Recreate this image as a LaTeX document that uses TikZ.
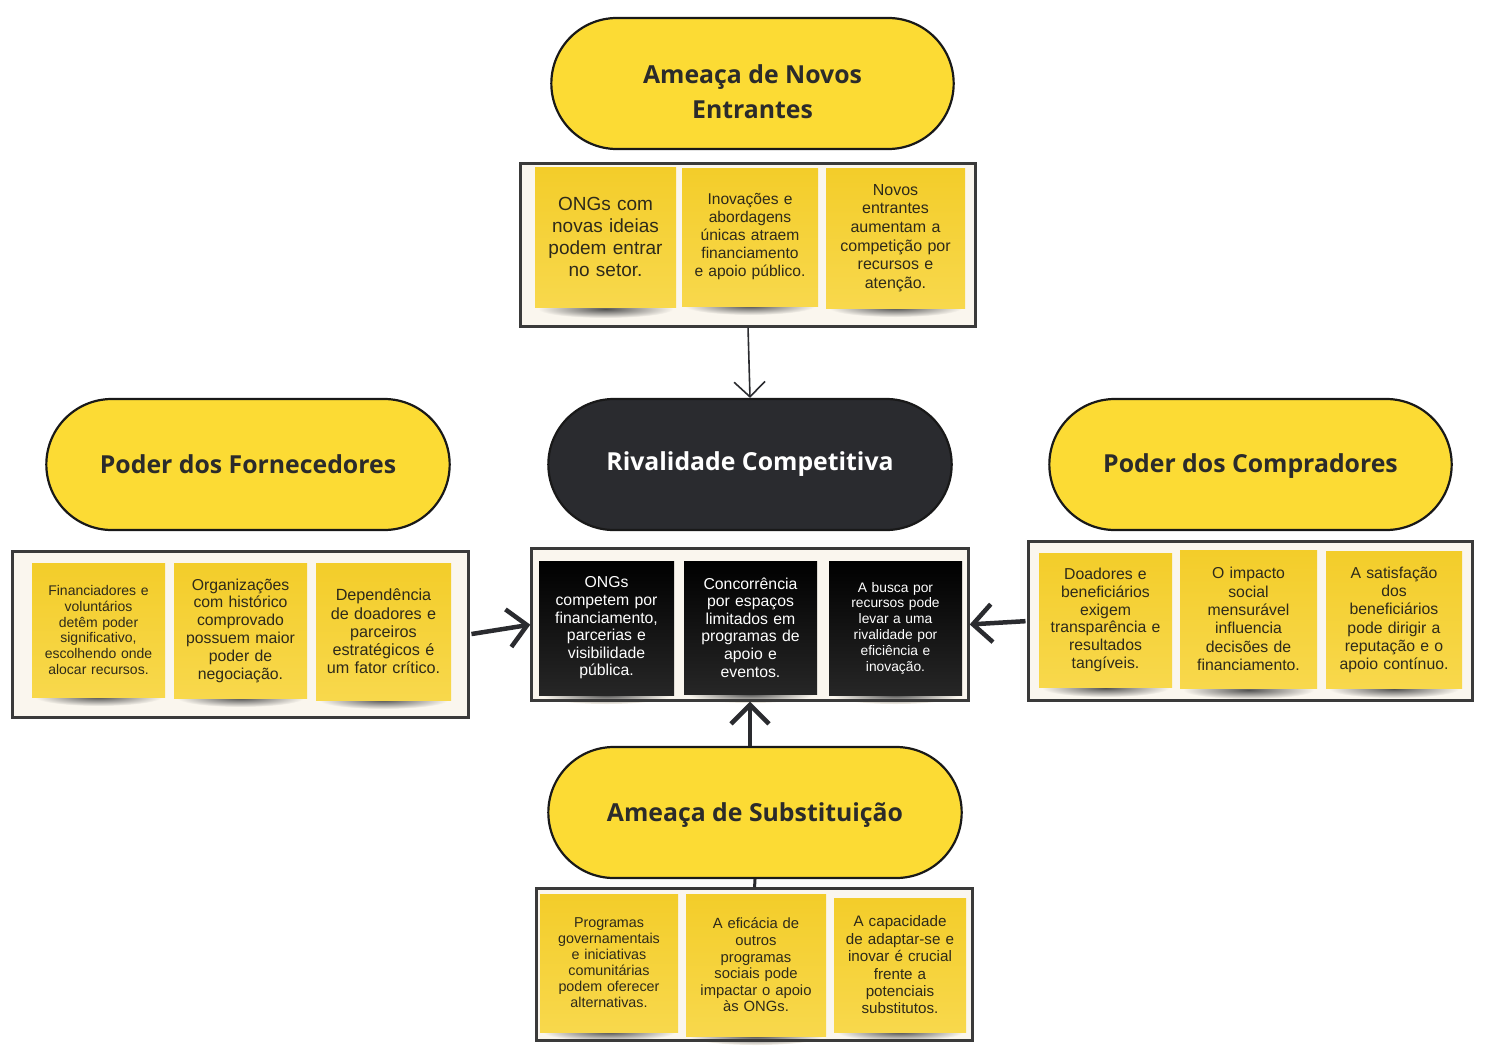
\documentclass[tikz,border=0pt]{standalone}
\usepackage{fontspec}
\setmainfont{Liberation Sans}
\newfontfamily\pillfont{Open Sans}
\usetikzlibrary{arrows.meta,shapes.misc}
\newcommand\fsz[2]{\fontsize{#1}{#2}\selectfont}
\definecolor{pillyellow}{HTML}{FCDB34}
\definecolor{pillblack}{HTML}{2A2B2F}
\definecolor{pilltext}{HTML}{2B2B2B}
\definecolor{stktop}{HTML}{F3CD2A}
\definecolor{stkbot}{HTML}{F8D84C}
\definecolor{stktext}{HTML}{2E2A1A}
\definecolor{framefill}{HTML}{FAF6EE}
\definecolor{frameline}{HTML}{3A3A3A}
\definecolor{arrowcol}{HTML}{2A2B2F}
\tikzset{
  pill/.style={rounded rectangle, draw=black!90, line width=2.2pt, fill=pillyellow,
    text=pilltext, align=center, font={\pillfont\bfseries\fsz{24.8}{35}}},
  darkpill/.style={pill, fill=pillblack, text=white},
  pilllabel/.style={align=center, text=pilltext, inner sep=0pt, font={\pillfont\bfseries\fsz{24.8}{35}}},
  frame/.style={rectangle, draw=frameline, line width=2.5pt, fill=framefill, inner sep=0pt, outer sep=0pt},
  frameedge/.style={draw=frameline, line width=2.5pt},
  sticky/.style={rectangle, inner sep=0pt, top color=stktop, bottom color=stkbot,
    text=stktext, align=center},
  darksticky/.style={rectangle, inner sep=0pt, top color=black, bottom color=black!85!white,
    text=white, align=center},
  thinarrow/.style={draw=arrowcol, line width=1.6pt, -{Straight Barb[length=15pt,width=31pt]}},
  thickarrow/.style={draw=arrowcol, line width=4.5pt, -{Straight Barb[length=19pt,width=38pt]}},
  link/.style={draw=arrowcol, line width=3pt}
}
\begin{document}
\begin{tikzpicture}[x=1pt,y=-1pt]
\useasboundingbox (0,0) rectangle (1488,1049);
\fill[white] (0,0) rectangle (1488,1049);

% pills
\node[pill, minimum width=409, minimum height=131] (novos) at (752.5,83.5) {};
\node[pilllabel] (novoslbl) at ([yshift=-8pt]novos.center) {Ameaça de Novos\\Entrantes};
\node[darkpill, minimum width=410, minimum height=131] (rival) at (750,464.5) {Rivalidade Competitiva};
\node[pill, minimum width=410, minimum height=131] (forn) at (248,464.5) {Poder dos Fornecedores};
\node[pill, minimum width=409, minimum height=131] (comp) at (1250.5,464.5) {};
\node[pilllabel] (complbl) at ([yshift=-2pt]comp.center) {Poder dos Compradores};
\node[pill, minimum width=420, minimum height=131] (subs) at (755,812.5) {};
\node[pilllabel] (subslbl) at ([yshift=-2.5pt]subs.center) {Ameaça de Substituição};

% frames
\node[frame, minimum width=455, minimum height=163] (fnovos) at (748,245) {};
\node[frame, minimum width=456, minimum height=166] (fforn) at (240.5,634.5) {};
\node[frame, minimum width=437, minimum height=152] (frival) at (750,624.5) {};
\node[frame, minimum width=444, minimum height=159] (fcomp) at (1250.5,621) {};
\node[frame, minimum width=436, minimum height=152] (fsubs) at (754.5,964.5) {};

% soft shadows of the sticky notes
\foreach \a/\b/\c in {535/676/309, 682/818/306, 826/965/308,
    32/165/697, 174/307/698, 316/451/700,
    539/674/695, 684/817/694, 829/962/695,
    1039/1172/688, 1180/1317/690, 1326/1462/689,
    540/678/1032, 686/826/1036, 834/966/1032}{
  \shade[inner color=black!68, outer color=framefill]
    ({(\a+\b)/2},\c) ellipse ({(\b-\a)/2-3} and 9);
}
% frame edges again, above the shadows
\foreach \f in {fnovos,fforn,frival,fcomp,fsubs}{
  \draw[frameedge] (\f.south west) rectangle (\f.north east);
}

% top stickies
\node[sticky, minimum width=141, minimum height=140, text width=137, font={\fsz{19}{21.7}}] (n1) at (605.5,237) {ONGs com\\novas ideias\\podem entrar\\no setor.};
\node[sticky, minimum width=136, minimum height=138, text width=132, font={\fsz{15.6}{18}}] (n2) at (750,237) {Inovações e\\abordagens\\únicas atraem\\financiamento\\e apoio público.};
\node[sticky, minimum width=139, minimum height=140, text width=135, font={\fsz{16}{18.6}}] (n3) at (895.5,238) {Novos\\entrantes\\aumentam a\\competição por\\recursos e\\atenção.};

% left stickies
\node[sticky, minimum width=133, minimum height=134, text width=129, font={\fsz{14}{15.8}}] (f1) at (98.5,630) {Financiadores e\\voluntários\\detêm poder\\significativo,\\escolhendo onde\\alocar recursos.};
\node[sticky, minimum width=133, minimum height=135, text width=129, font={\fsz{15.8}{17.8}}] (f2) at (240.5,630.5) {Organizações\\com histórico\\comprovado\\possuem maior\\poder de\\negociação.};
\node[sticky, minimum width=135, minimum height=137, text width=131, font={\fsz{16.2}{18.3}}] (f3) at (383.5,631.5) {Dependência\\de doadores e\\parceiros\\estratégicos é\\um fator crítico.};

% center stickies
\node[darksticky, minimum width=135, minimum height=134, text width=131, font={\fsz{15.8}{17.6}}] (r1) at (606.5,628) {ONGs\\competem por\\financiamento,\\parcerias e\\visibilidade\\pública.};
\node[darksticky, minimum width=133, minimum height=133, text width=129, font={\fsz{15.8}{17.6}}] (r2) at (750.5,627.5) {Concorrência\\por espaços\\limitados em\\programas de\\apoio e\\eventos.};
\node[darksticky, minimum width=133, minimum height=134, text width=129, font={\fsz{13.8}{15.8}}] (r3) at (895.5,628) {A busca por\\recursos pode\\levar a uma\\rivalidade por\\eficiência e\\inovação.};

% right stickies
\node[sticky, minimum width=133, minimum height=134, text width=129, font={\fsz{15.8}{17.8}}] (c1) at (1105.5,620) {Doadores e\\beneficiários\\exigem\\transparência e\\resultados\\tangíveis.};
\node[sticky, minimum width=137, minimum height=138, text width=133, font={\fsz{15.8}{18.3}}] (c2) at (1248.5,619) {O impacto\\social\\mensurável\\influencia\\decisões de\\financiamento.};
\node[sticky, minimum width=136, minimum height=137, text width=132, font={\fsz{15.8}{18.2}}] (c3) at (1394,620) {A satisfação\\dos\\beneficiários\\pode dirigir a\\reputação e o\\apoio contínuo.};

% bottom stickies
\node[sticky, minimum width=138, minimum height=138, text width=134, font={\fsz{14.3}{16}}] (s1) at (609,963) {Programas\\governamentais\\e iniciativas\\comunitárias\\podem oferecer\\alternativas.};
\node[sticky, minimum width=140, minimum height=142, text width=136, font={\fsz{14.8}{16.6}}] (s2) at (756,965) {A eficácia de\\outros\\programas\\sociais pode\\impactar o apoio\\às ONGs.};
\node[sticky, minimum width=132, minimum height=134, text width=128, font={\fsz{15.2}{17.4}}] (s3) at (900,965) {A capacidade\\de adaptar-se e\\inovar é crucial\\frente a\\potenciais\\substitutos.};

% connectors
\draw[link, shorten >=1.2pt] (subs.south) -- (fsubs.north);
\draw[thinarrow, shorten <=1.2pt] (fnovos.south) -- (rival.north);
\draw[thickarrow, shorten <=3pt, shorten >=1.2pt] (fforn.east) -- (frival.west);
\draw[thickarrow, shorten <=3pt, shorten >=1.2pt] (fcomp.west) -- (frival.east);
\draw[thickarrow, shorten >=1.2pt] (frival.south |- subs.north) -- (frival.south);
\end{tikzpicture}
\end{document}
